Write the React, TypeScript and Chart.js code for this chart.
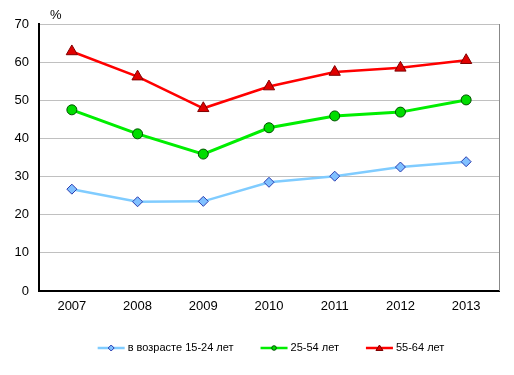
import React, { useEffect, useRef } from "react";
import { Chart, registerables } from "chart.js";

Chart.register(...registerables);

const years = ["2007", "2008", "2009", "2010", "2011", "2012", "2013"];
const youth = [26.7, 23.4, 23.5, 28.5, 30.1, 32.5, 33.9];
const prime = [47.5, 41.2, 35.9, 42.8, 45.9, 46.9, 50.1];
const older = [62.8, 56.2, 47.9, 53.6, 57.4, 58.5, 60.5];
const seriesNames = ["в возрасте 15-24 лет", "25-54 лет", "55-64 лет"];
const yTicks = [0, 10, 20, 30, 40, 50, 60, 70];
const unitLabel = "%";

const FONT = "'Liberation Sans', Arial, sans-serif";

function drawMarker(ctx: CanvasRenderingContext2D, shape: string, x: number, y: number, fill: string, border: string) {
  ctx.fillStyle = fill;
  ctx.strokeStyle = border;
  ctx.lineWidth = 1;
  ctx.beginPath();
  if (shape === "rectRot") {
    ctx.moveTo(x, y - 3);
    ctx.lineTo(x + 3, y);
    ctx.lineTo(x, y + 3);
    ctx.lineTo(x - 3, y);
    ctx.closePath();
  } else if (shape === "circle") {
    ctx.arc(x, y, 2.3, 0, Math.PI * 2);
  } else {
    ctx.moveTo(x, y - 3);
    ctx.lineTo(x + 3.5, y + 2.5);
    ctx.lineTo(x - 3.5, y + 2.5);
    ctx.closePath();
  }
  ctx.fill();
  ctx.stroke();
}

export default function App() {
  const ref = useRef<HTMLCanvasElement>(null);
  useEffect(() => {
    const extrasPlugin = {
      id: "extras",
      afterDraw(chart: any) {
        const { ctx, chartArea } = chart;
        ctx.save();
        // right frame line
        ctx.strokeStyle = "#888888";
        ctx.lineWidth = 1;
        ctx.beginPath();
        ctx.moveTo(chartArea.right + 0.5, chartArea.top);
        ctx.lineTo(chartArea.right + 0.5, chartArea.bottom);
        ctx.stroke();
        // unit label
        ctx.fillStyle = "#000";
        ctx.font = `13px ${FONT}`;
        ctx.textBaseline = "middle";
        ctx.textAlign = "left";
        ctx.fillText(unitLabel, chartArea.left + 11, 15);
        // legend
        ctx.font = `11px ${FONT}`;
        const iconW = 27;
        const textGap = 3;
        const itemGap = 27;
        const items = chart.data.datasets.map((ds: any) => ({
          ds,
          w: iconW + textGap + ctx.measureText(ds.label).width,
        }));
        const total = items.reduce((a: number, it: any) => a + it.w, 0) + itemGap * (items.length - 1);
        let x = 271 - total / 2;
        const y = 348;
        for (const it of items) {
          const ds = it.ds;
          ctx.strokeStyle = ds.borderColor;
          ctx.lineWidth = 2.5;
          ctx.beginPath();
          ctx.moveTo(x, y);
          ctx.lineTo(x + iconW, y);
          ctx.stroke();
          drawMarker(ctx, ds.pointStyle, x + iconW / 2, y, ds.pointBackgroundColor, ds.pointBorderColor);
          ctx.fillStyle = "#000";
          ctx.textBaseline = "middle";
          ctx.fillText(ds.label, x + iconW + textGap, y);
          x += it.w + itemGap;
        }
        ctx.restore();
      },
    };
    const chart = new Chart(ref.current!, {
      type: "line",
      data: {
        labels: years,
        datasets: [
          {
            label: seriesNames[0],
            data: youth,
            borderColor: "#80ccff",
            borderWidth: 2.5,
            pointStyle: "rectRot",
            pointRadius: 5,
            pointBackgroundColor: "#80c0ff",
            pointBorderColor: "#2a3cb0",
            pointBorderWidth: 1,
          },
          {
            label: seriesNames[1],
            data: prime,
            borderColor: "#00ee00",
            borderWidth: 3,
            pointStyle: "circle",
            pointRadius: 5,
            pointBackgroundColor: "#00dd00",
            pointBorderColor: "#005000",
            pointBorderWidth: 1,
          },
          {
            label: seriesNames[2],
            data: older,
            borderColor: "#ff0000",
            borderWidth: 2.5,
            pointStyle: "triangle",
            pointRadius: 6.5,
            pointBackgroundColor: "#e00000",
            pointBorderColor: "#800000",
            pointBorderWidth: 1,
          },
        ],
      },
      options: {
        animation: false,
        responsive: false,
        maintainAspectRatio: false,
        layout: { padding: { top: 24, right: 15, left: 0, bottom: 59 } },
        plugins: {
          tooltip: { enabled: false },
          legend: { display: false },
        },
        scales: {
          x: {
            offset: true,
            grid: { display: false, drawTicks: false },
            border: { color: "#000", width: 2 },
            ticks: { color: "#000", font: { family: FONT, size: 13 }, padding: 8 },
            afterFit: (s: any) => {
              s.height = 25;
            },
          },
          y: {
            min: 0,
            max: 70,
            afterBuildTicks: (s: any) => {
              s.ticks = yTicks.map((v) => ({ value: v }));
            },
            grid: { color: "#c0c0c0", lineWidth: 1, drawTicks: false },
            border: { color: "#000", width: 2 },
            ticks: { color: "#000", font: { family: FONT, size: 13 }, padding: 10 },
            afterFit: (s: any) => {
              s.width = 39;
            },
          },
        },
      },
      plugins: [extrasPlugin],
    });
    return () => chart.destroy();
  }, []);
  return (
    <div style={{ position: "fixed", left: 0, top: 0, width: 514, height: 375, background: "#fff" }}>
      <canvas ref={ref} width={514} height={375} />
    </div>
  );
}
